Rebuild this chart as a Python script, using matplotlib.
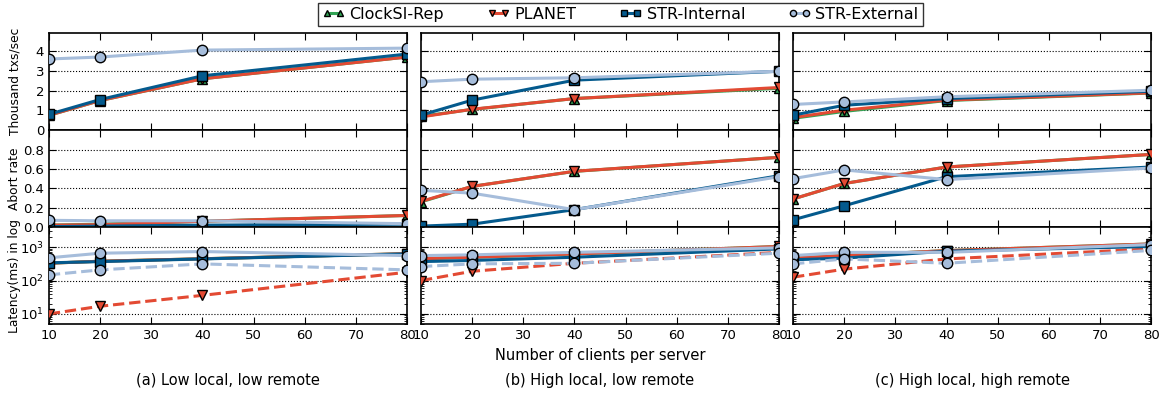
# Throughput / abort rate / latency for three workloads
import matplotlib
matplotlib.use('Agg')
import matplotlib.pyplot as plt
from matplotlib.ticker import LogLocator, NullFormatter

# ----------------------------------------------------------------
# Data, one inner list per workload (a), (b), (c)
clients = [10, 20, 40, 80]
workloads = ['(a) Low local, low remote', '(b) High local, low remote', '(c) High local, high remote']
series = ['ClockSI-Rep', 'PLANET', 'STR-Internal', 'STR-External']

tput_clocksi = [[0.75, 1.5, 2.6, 3.7], [0.7, 1.05, 1.6, 2.12], [0.6, 0.95, 1.5, 1.88]]
tput_planet = [[0.75, 1.5, 2.6, 3.7], [0.67, 1.06, 1.6, 2.16], [0.64, 1.01, 1.52, 1.89]]
tput_internal = [[0.8, 1.55, 2.75, 3.85], [0.76, 1.52, 2.53, 2.98], [0.76, 1.26, 1.6, 1.97]]
tput_external = [[3.6, 3.7, 4.05, 4.15], [2.45, 2.58, 2.65, 2.98], [1.3, 1.43, 1.69, 2.02]]

abort_clocksi = [[0.02, 0.03, 0.06, 0.12], [0.26, 0.42, 0.575, 0.72], [0.29, 0.45, 0.62, 0.75]]
abort_planet = [[0.02, 0.025, 0.06, 0.12], [0.265, 0.42, 0.576, 0.72], [0.29, 0.45, 0.62, 0.75]]
abort_internal = [[0.005, 0.01, 0.02, 0.03], [0.01, 0.03, 0.18, 0.53], [0.075, 0.22, 0.52, 0.62]]
abort_external = [[0.07, 0.065, 0.065, 0.035], [0.38, 0.35, 0.18, 0.52], [0.5, 0.59, 0.49, 0.61]]

# latency (ms): solid = total, dashed = first (local) commit
lat_clocksi = [[330, 380, 450, 640], [450, 500, 630, 1050], [470, 560, 790, 1250]]
lat_planet = [[330, 380, 450, 640], [450, 500, 630, 1050], [470, 560, 790, 1250]]
lat_planet_local = [[10, 17, 36, 178], [100, 190, 330, 700], [126, 220, 445, 890]]
lat_internal = [[340, 370, 445, 630], [370, 400, 500, 890], [420, 470, 760, 1050]]
lat_external = [[480, 660, 740, 560], [560, 590, 700, 955], [560, 700, 700, 1200]]
lat_external_local = [[148, 209, 316, 209], [263, 316, 330, 660], [316, 445, 330, 800]]

colors = ['#31a354', '#e34a33', '#045a8d', '#a6bddb']
markers = ['^', 'v', 's', 'o']

# ----------------------------------------------------------------
plt.rcParams['font.family'] = 'DejaVu Sans'
plt.rcParams['font.size'] = 9
plt.rcParams['xtick.direction'] = 'in'
plt.rcParams['ytick.direction'] = 'in'
plt.rcParams['xtick.top'] = True
plt.rcParams['ytick.right'] = True
plt.rcParams['xtick.major.size'] = 5
plt.rcParams['ytick.major.size'] = 5
plt.rcParams['ytick.minor.size'] = 2.5
plt.rcParams['xtick.labelsize'] = 9.5
plt.rcParams['ytick.labelsize'] = 9.5

fig, axes = plt.subplots(3, 3, figsize=(11.64, 3.94), dpi=100, sharex=True)
plt.subplots_adjust(left=0.042, right=0.989, top=0.9155, bottom=0.1777, wspace=0.039, hspace=0)


def draw(ax, y, i, ls='-'):
    ax.plot(clients, y, linestyle=ls, color=colors[i], marker=markers[i], markerfacecolor=colors[i],
            markeredgecolor='black', markeredgewidth=1, markersize=7.5, linewidth=2.2,
            label=series[i] if ls == '-' else None, zorder=3 + i)


for c in range(3):
    ax_t, ax_a, ax_l = axes[0][c], axes[1][c], axes[2][c]

    for i, y in enumerate([tput_clocksi[c], tput_planet[c], tput_internal[c], tput_external[c]]):
        draw(ax_t, y, i)
    for i, y in enumerate([abort_clocksi[c], abort_planet[c], abort_internal[c], abort_external[c]]):
        draw(ax_a, y, i)
    for i, y in enumerate([lat_clocksi[c], lat_planet[c], lat_internal[c], lat_external[c]]):
        draw(ax_l, y, i)
    draw(ax_l, lat_planet_local[c], 1, ls='--')
    draw(ax_l, lat_external_local[c], 3, ls='--')

    ax_t.set_ylim(0, 4.9)
    ax_t.set_yticks([0, 1, 2, 3, 4])
    ax_a.set_ylim(0, 1.0)
    ax_a.set_yticks([0.0, 0.2, 0.4, 0.6, 0.8])
    ax_l.set_yscale('log')
    ax_l.set_ylim(5, 4000)
    ax_l.yaxis.set_major_locator(LogLocator(base=10, numticks=10))
    ax_l.yaxis.set_minor_locator(LogLocator(base=10, subs=range(2, 10), numticks=10))
    ax_l.yaxis.set_minor_formatter(NullFormatter())
    ax_l.set_xlim(10, 80)
    ax_l.set_xticks([10, 20, 30, 40, 50, 60, 70, 80])

    for ax in (ax_t, ax_a, ax_l):
        ax.grid(axis='y', color='black', linestyle=':', linewidth=0.8)
        ax.set_axisbelow(True)
        for s in ax.spines.values():
            s.set_linewidth(1.2)
        if c > 0:
            ax.set_yticklabels([])

    pos = axes[2][c].get_position()
    fig.text((pos.x0 + pos.x1) / 2, 0.035, workloads[c], ha='center', va='center', fontsize=10.5)

axes[0][0].set_ylabel('Thousand txs/sec', fontsize=8.8)
axes[1][0].set_ylabel('Abort rate', fontsize=8.8)
axes[2][0].set_ylabel('Latency(ms) in log', fontsize=8.8)
for r in range(3):
    axes[r][0].yaxis.set_label_coords(-0.077, 0.5)

fig.text(0.516, 0.097, 'Number of clients per server', ha='center', va='center', fontsize=10.5)

handles, labels = axes[0][0].get_legend_handles_labels()
leg = fig.legend(handles, labels, loc='upper center', bbox_to_anchor=(0.533, 0.997), ncol=4,
                 fontsize=11.5, numpoints=2, markerscale=0.6, handlelength=1.4, handletextpad=0.3,
                 columnspacing=2.7, fancybox=False, edgecolor='black', borderpad=0.25,
                 borderaxespad=0.1)
leg.get_frame().set_linewidth(1.0)

plt.savefig('out.png', dpi=100)
